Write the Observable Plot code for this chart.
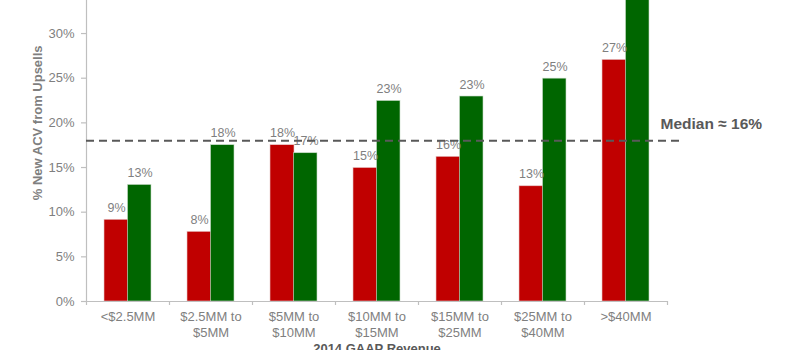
<!DOCTYPE html>
<html>
<head>
<meta charset="utf-8">
<script src="https://cdn.jsdelivr.net/npm/d3@7"></script>
<script src="https://cdn.jsdelivr.net/npm/@observablehq/plot@0.6"></script>
<style>
  html, body { margin: 0; padding: 0; background: #fff; }
  #chart { width: 800px; height: 350px; overflow: hidden; }
</style>
</head>
<body>
<div id="chart"></div>
<script>
const categories = ["<$2.5MM", "$2.5MM to\n$5MM", "$5MM to\n$10MM", "$10MM to\n$15MM", "$15MM to\n$25MM", "$25MM to\n$40MM", ">$40MM"];
const redValues = [9.15, 7.8, 17.5, 14.95, 16.2, 12.9, 27.05];
const greenValues = [13.05, 17.5, 16.6, 22.45, 22.95, 24.95, 36];
const redLabels = ["9%", "8%", "18%", "15%", "16%", "13%", "27%"];
const greenLabels = ["13%", "18%", "17%", "23%", "23%", "25%", "36%"];
const yTicks = [0, 5, 10, 15, 20, 25, 30];
const medianValue = 18;
const medianLabel = "Median ≈ 16%";
const yTitle = "% New ACV from Upsells";
const xTitle = "2014 GAAP Revenue";

const red = categories.map((c, i) => ({cat: c, value: redValues[i], label: redLabels[i]}));
const green = categories.map((c, i) => ({cat: c, value: greenValues[i], label: greenLabels[i]}));

const W = 800, H = 350, mL = 86, mR = 133;
const bw = (W - mL - mR) / categories.length;
const gray = "#7f7f7f";
const font = "'Liberation Sans', Arial, sans-serif";

const chart = Plot.plot({
  width: W,
  height: H,
  marginTop: 0,
  marginBottom: 49,
  marginLeft: mL,
  marginRight: mR,
  style: {fontFamily: font, background: "#fff", overflow: "hidden"},
  x: {domain: categories, padding: 0, axis: null},
  y: {domain: [0, 33.7], axis: null},
  marks: [
    Plot.barY(red, {x: "cat", y: "value", fill: "#c00000", stroke: "#e8c8c8", strokeWidth: 0.6, insetLeft: 18, insetRight: bw - 42}),
    Plot.barY(green, {x: "cat", y: "value", fill: "#006600", stroke: "#c8dcc8", strokeWidth: 0.6, insetLeft: 41.5, insetRight: bw - 65}),
    Plot.text(red, {x: "cat", y: "value", text: "label", dx: -11.5, dy: -12, fill: gray, fontSize: 12.5}),
    Plot.text(green, {x: "cat", y: "value", text: "label", dx: 12, dy: -12, fill: gray, fontSize: 12.5}),
    // axes
    Plot.frame({anchor: "left", stroke: "#bfbfbf", strokeWidth: 1.2}),
    Plot.ruleY([0], {stroke: "#bfbfbf", strokeWidth: 1.2}),
    Plot.axisY(yTicks, {label: null, tickSize: 5, tickPadding: 7, tickFormat: d => d + "%", stroke: "#bfbfbf", fill: gray, fontSize: 13, strokeWidth: 1.2, strokeOpacity: 1}),
    Plot.ruleX(categories, {x: d => d, dx: -bw / 2, y1: 0, y2: -0.45, stroke: "#bfbfbf", strokeWidth: 1.2}),
    Plot.ruleX(categories.slice(-1), {x: d => d, dx: bw / 2, y1: 0, y2: -0.45, stroke: "#bfbfbf", strokeWidth: 1.2}),
    Plot.text(categories, {x: d => d, text: d => d, frameAnchor: "bottom", lineAnchor: "top", dy: 9, lineHeight: 1.17, fill: gray, fontSize: 13}),
    Plot.text([xTitle], {frameAnchor: "bottom", lineAnchor: "top", dy: 42, fill: "#595959", fontSize: 13, fontWeight: "bold"}),
    Plot.text([yTitle], {y: [20], frameAnchor: "left", textAnchor: "middle", dx: -49, rotate: -90, fill: gray, fontSize: 13, fontWeight: "bold"}),
    // median
    Plot.ruleY([medianValue], {stroke: "#595959", strokeWidth: 1.8, strokeDasharray: "8,5", insetRight: -12}),
    Plot.text([medianLabel], {y: [medianValue], frameAnchor: "right", textAnchor: "start", dx: -7, dy: -17, fill: "#595959", fontSize: 15.5, fontWeight: "bold"})
  ]
});
document.getElementById("chart").appendChild(chart);
</script>
</body>
</html>
